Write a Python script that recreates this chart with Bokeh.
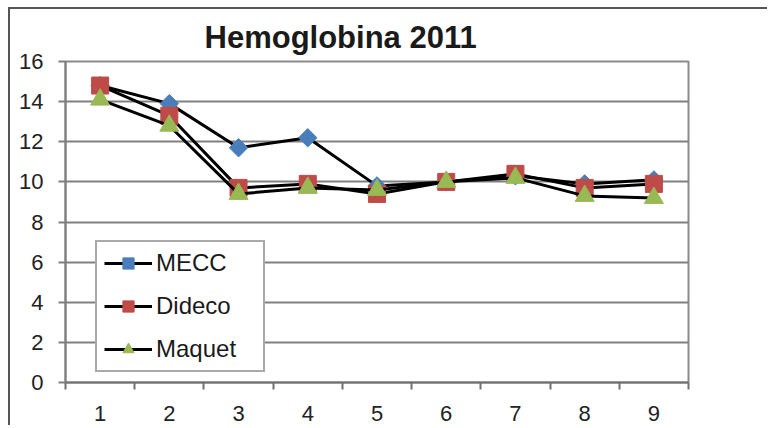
import numpy as np
from bokeh.plotting import figure
from bokeh.models import FixedTicker, Range1d, Legend, LegendItem
from bokeh.embed import file_html
from bokeh.resources import INLINE

categories = [1, 2, 3, 4, 5, 6, 7, 8, 9]
mecc = [14.8, 13.9, 11.7, 12.2, 9.8, 10.0, 10.3, 9.9, 10.1]
dideco = [14.8, 13.3, 9.7, 9.9, 9.4, 10.0, 10.4, 9.7, 9.9]
maquet = [14.1, 12.8, 9.4, 9.7, 9.6, 10.0, 10.2, 9.3, 9.2]
y_ticks = [0, 2, 4, 6, 8, 10, 12, 14, 16]

FONT = "Liberation Sans"

p = figure(width=759, height=418, output_backend="svg", toolbar_location=None,
           x_range=Range1d(0.5, 9.5), y_range=Range1d(0, 16),
           min_border_left=55, min_border_right=81, min_border_top=52, min_border_bottom=45)
p.margin = (7, 0, 0, 8)
p.styles = {"border-left": "2px solid #555555", "border-top": "2px solid #555555"}

p.title.text = "Hemoglobina 2011"
p.title.text_font = FONT
p.title.text_font_size = "31px"
p.title.text_font_style = "bold"
p.title.text_color = "#1a1a1a"
p.title.align = "left"
p.title.vertical_align = "top"
p.title.offset = 139
p.title.standoff = 10

p.outline_line_color = "#8a8a8a"
p.outline_line_width = 2
p.xgrid.visible = False
p.ygrid.grid_line_color = "#808080"
p.ygrid.grid_line_width = 2
p.ygrid.grid_line_alpha = 1.0

p.yaxis.ticker = FixedTicker(ticks=y_ticks, minor_ticks=[])
p.yaxis.axis_line_color = "#808080"
p.yaxis.axis_line_width = 2
p.yaxis.major_tick_line_color = "#808080"
p.yaxis.major_tick_line_width = 2
p.yaxis.major_tick_out = 7
p.yaxis.major_tick_in = 0
p.yaxis.minor_tick_line_color = None
p.yaxis.major_label_standoff = 15
p.yaxis.major_label_text_font = FONT
p.yaxis.major_label_text_font_size = "22px"
p.yaxis.major_label_text_color = "#222222"

p.xaxis.ticker = FixedTicker(ticks=categories, minor_ticks=[c - 0.5 for c in categories] + [9.5])
p.xaxis.axis_line_color = "#707070"
p.xaxis.axis_line_width = 2
p.xaxis.major_tick_line_color = None
p.xaxis.minor_tick_line_color = "#707070"
p.xaxis.minor_tick_line_width = 2
p.xaxis.minor_tick_out = 7
p.xaxis.minor_tick_in = 0
p.xaxis.major_tick_out = 7
p.xaxis.major_label_standoff = 16
p.xaxis.major_label_text_font = FONT
p.xaxis.major_label_text_font_size = "22px"
p.xaxis.major_label_text_color = "#222222"

series = [
    ("MECC", mecc, "#4A7EBB", "square", 13, np.pi / 4),
    ("Dideco", dideco, "#BE4B48", "square", 17, 0),
    ("Maquet", maquet, "#98B954", "triangle", 19, 0),
]

items = []
for name, vals, color, marker, size, ang in series:
    l = p.line(categories, vals, line_color="black", line_width=3)
    s = p.scatter(categories, vals, marker=marker, size=size, angle=ang,
                  fill_color=color, line_color=color)
    items.append(LegendItem(label=name, renderers=[l, s]))

legend = Legend(items=items, location=(30, 10))
legend.label_text_font = FONT
legend.label_text_font_size = "24px"
legend.label_text_color = "#1a1a1a"
legend.glyph_width = 48
legend.glyph_height = 28
legend.label_height = 28
legend.label_width = 100
legend.label_standoff = 4
legend.spacing = 15
legend.padding = 7
legend.margin = 0
legend.border_line_color = "#555555"
legend.border_line_width = 2
legend.background_fill_color = "white"
legend.background_fill_alpha = 1.0
p.add_layout(legend, "center")

open("out.html", "w").write(file_html(p, INLINE))
